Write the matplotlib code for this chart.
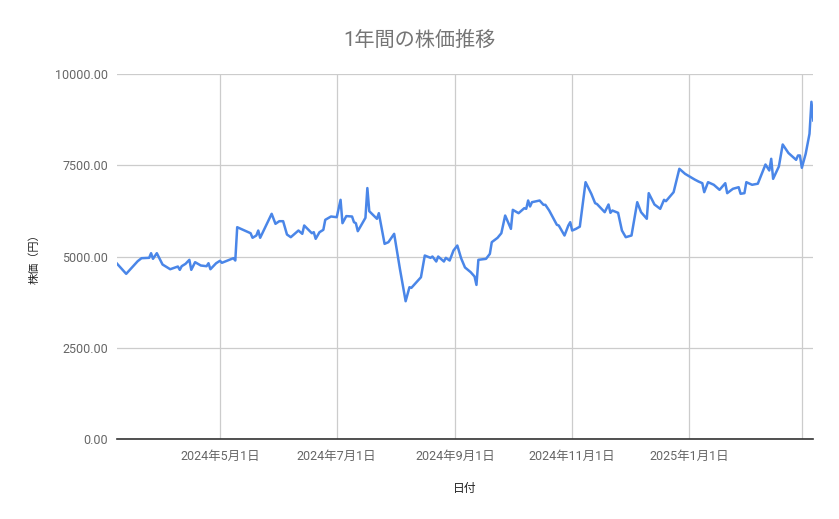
import matplotlib
matplotlib.use("Agg")
import matplotlib.pyplot as plt
import pandas as pd

# daily-ish price readings, 2024-03 .. 2025-03
dates = [
    "2024-03-08", "2024-03-13", "2024-03-19", "2024-03-21", "2024-03-25", "2024-03-26",
    "2024-03-27", "2024-03-29", "2024-04-01", "2024-04-05", "2024-04-09", "2024-04-10",
    "2024-04-11", "2024-04-13", "2024-04-15", "2024-04-16", "2024-04-18", "2024-04-21",
    "2024-04-24", "2024-04-25", "2024-04-26", "2024-04-29", "2024-05-01", "2024-05-02",
    "2024-05-08", "2024-05-09", "2024-05-10", "2024-05-17", "2024-05-18", "2024-05-20",
    "2024-05-21", "2024-05-22", "2024-05-28", "2024-05-30", "2024-06-01", "2024-06-03",
    "2024-06-05", "2024-06-07", "2024-06-11", "2024-06-13", "2024-06-14", "2024-06-18",
    "2024-06-19", "2024-06-20", "2024-06-22", "2024-06-24", "2024-06-25", "2024-06-28",
    "2024-07-01", "2024-07-03", "2024-07-04", "2024-07-06", "2024-07-09", "2024-07-10",
    "2024-07-11", "2024-07-12", "2024-07-16", "2024-07-17", "2024-07-18", "2024-07-22",
    "2024-07-23", "2024-07-26", "2024-07-28", "2024-07-31", "2024-08-03", "2024-08-06",
    "2024-08-08", "2024-08-09", "2024-08-14", "2024-08-16", "2024-08-19", "2024-08-20",
    "2024-08-22", "2024-08-23", "2024-08-26", "2024-08-27", "2024-08-29", "2024-08-31",
    "2024-09-02", "2024-09-04", "2024-09-06", "2024-09-09", "2024-09-11", "2024-09-12",
    "2024-09-13", "2024-09-17", "2024-09-19", "2024-09-20", "2024-09-23", "2024-09-25",
    "2024-09-27", "2024-09-30", "2024-10-01", "2024-10-04", "2024-10-07", "2024-10-08",
    "2024-10-09", "2024-10-10", "2024-10-11", "2024-10-15", "2024-10-17", "2024-10-18",
    "2024-10-20", "2024-10-24", "2024-10-25", "2024-10-28", "2024-10-30", "2024-10-31",
    "2024-11-01", "2024-11-03", "2024-11-05", "2024-11-08", "2024-11-11", "2024-11-13",
    "2024-11-14", "2024-11-18", "2024-11-20", "2024-11-21", "2024-11-22", "2024-11-25",
    "2024-11-27", "2024-11-29", "2024-12-02", "2024-12-05", "2024-12-07", "2024-12-10",
    "2024-12-11", "2024-12-14", "2024-12-17", "2024-12-19", "2024-12-20", "2024-12-24",
    "2024-12-27", "2024-12-30", "2025-01-02", "2025-01-04", "2025-01-06", "2025-01-08",
    "2025-01-09", "2025-01-11", "2025-01-14", "2025-01-17", "2025-01-20", "2025-01-21",
    "2025-01-24", "2025-01-27", "2025-01-28", "2025-01-30", "2025-01-31", "2025-02-03",
    "2025-02-06", "2025-02-10", "2025-02-12", "2025-02-13", "2025-02-14", "2025-02-17",
    "2025-02-19", "2025-02-22", "2025-02-26", "2025-02-27", "2025-02-28", "2025-03-01",
    "2025-03-03", "2025-03-05", "2025-03-06", "2025-03-07",
]
prices = [
    4816, 4524, 4871, 4954, 4964, 5091,
    4937, 5091, 4780, 4651, 4725, 4634,
    4734, 4799, 4909, 4634, 4844, 4753,
    4734, 4816, 4651, 4816, 4882, 4827,
    4954, 4890, 5805, 5640, 5514, 5577,
    5714, 5514, 6173, 5898, 5970, 5970,
    5604, 5531, 5714, 5623, 5852, 5640,
    5668, 5486, 5668, 5733, 6008, 6099,
    6080, 6557, 5915, 6110, 6099, 5943,
    5915, 5696, 6063, 6880, 6245, 6036,
    6190, 5348, 5394, 5623, 4662, 3772,
    4157, 4140, 4431, 5027, 4964, 5000,
    4863, 5000, 4863, 4964, 4890, 5165,
    5302, 4950, 4700, 4569, 4451, 4220,
    4909, 4936, 5073, 5394, 5513, 5640,
    6126, 5760, 6282, 6190, 6328, 6310,
    6538, 6374, 6492, 6538, 6420, 6420,
    6264, 5871, 5852, 5577, 5852, 5943,
    5714, 5760, 5820, 7042, 6723, 6465,
    6440, 6218, 6429, 6200, 6264, 6200,
    5714, 5531, 5577, 6492, 6218, 6036,
    6740, 6429, 6310, 6557, 6520, 6767,
    7409, 7271, 7179, 7115, 7060, 7014,
    6767, 7042, 6970, 6832, 7014, 6740,
    6860, 6904, 6723, 6740, 7042, 6970,
    7000, 7527, 7363, 7684, 7134, 7473,
    8077, 7843, 7656, 7775, 7775, 7437,
    7821, 8370, 9250, 8736,
]

tick_dates = ["2024-05-01", "2024-07-01", "2024-09-01", "2024-11-01", "2025-01-01", "2025-03-01"]
tick_labels = ["2024年5月1日", "2024年7月1日", "2024年9月1日", "2024年11月1日", "2025年1月1日", ""]
y_ticks = [0, 2500, 5000, 7500, 10000]

fonts = ["Roboto", "Noto Sans CJK JP", "DejaVu Sans"]
plt.rcParams["font.family"] = fonts

x = pd.to_datetime(dates)

fig = plt.figure(figsize=(8.39, 5.19), dpi=100)
ax = fig.add_axes([0.139, 0.155, 0.8304, 0.7015])

ax.plot(x, prices, color="#4a86e8", lw=1.8, solid_joinstyle="round")

ax.set_xlim(x[0], x[-1])
ax.set_ylim(0, 10000)
ax.set_yticks(y_ticks)
ax.set_yticklabels([f"{v:.2f}" for v in y_ticks])
ax.set_xticks(pd.to_datetime(tick_dates))
ax.set_xticklabels(tick_labels)

ax.grid(True, color="#cccccc", lw=0.9)
ax.set_axisbelow(True)
ax.tick_params(length=0, labelsize=9, labelcolor="#666666")
ax.tick_params(axis="y", pad=6)
ax.tick_params(axis="x", pad=8)
for s in ["top", "right", "left"]:
    ax.spines[s].set_visible(False)
ax.spines["bottom"].set_color("#333333")
ax.spines["bottom"].set_linewidth(1.2)
ax.spines["bottom"].set_zorder(3)

ax.set_xlabel("日付", fontsize=8.5, color="#222222", labelpad=14)
ax.set_ylabel("株価（円）", fontsize=8, color="#222222", labelpad=11)
fig.text(0.5, 0.923, "1年間の株価推移", ha="center", va="center",
         fontsize=14.5, color="#757575")

fig.savefig("out.png", dpi=100)
